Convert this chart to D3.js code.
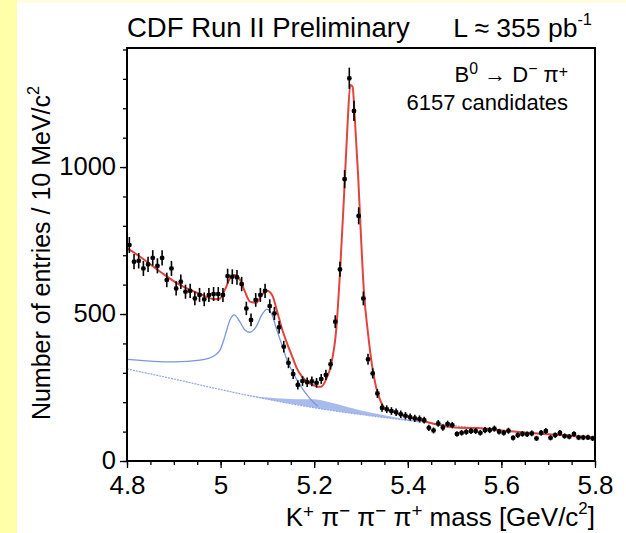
<!DOCTYPE html>
<html><head><meta charset="utf-8">
<script src="https://cdn.jsdelivr.net/npm/d3@7"></script>
<style>
body{margin:0;background:#fff}
svg{display:block}
text{font-family:"Liberation Sans",Arial,Helvetica,sans-serif;fill:#000}
</style>
</head><body>
<svg id="chart" width="626" height="533"></svg>
<script>
// ---- data ----
const counts = [
  735,678,681,655,669,691,664,691,616,655,
  587,610,576,579,553,565,550,565,568,568,
  565,629,627,625,602,519,480,548,565,579,
  527,502,455,389,334,296,259,272,268,271,
  266,279,293,329,474,652,959,1302,1191,834,
  553,346,298,230,181,176,170,166,159,154,
  149,145,143,139,113,104,128,114,126,122,
  92,96,99,102,102,96,105,105,110,100,
  96,103,79,88,92,91,94,77,96,102,
  79,88,96,85,83,92,80,80,80,77
];
const binStart = 4.8, binWidth = 0.01;

const fitMass = [4.800,4.828,4.871,4.913,4.956,4.988,4.999,5.009,5.020,5.029,5.041,5.052,5.063,5.076,5.088,5.099,5.110,5.120,5.131,5.142,5.153,5.163,5.174,5.185,5.197,5.208,5.215,5.225,5.236,5.247,5.255,5.264,5.271,5.277,5.282,5.287,5.294,5.300,5.306,5.315,5.324,5.332,5.341,5.351,5.366,5.394,5.426,5.469,5.507,5.55,5.60,5.65,5.70,5.75,5.80];
const fitTotal = [724,695,644,599,568,550,553,582,621,633,618,576,542,538,565,579,565,514,451,400,355,315,287,270,259,253,253,276,327,446,638,910,1137,1279,1273,1160,967,763,582,434,321,253,207,179,168,153,139,122,113,112,104,97,91,85,80];

const partMass = [4.800,4.850,4.903,4.956,4.988,4.999,5.009,5.020,5.029,5.041,5.052,5.063,5.076,5.088,5.099,5.110,5.120,5.131,5.142,5.153,5.163,5.174,5.185,5.197,5.208];
const partVals = [346,340,337,343,360,378,423,480,497,474,446,438,457,497,516,497,446,395,343,305,276,248,224,202,186];

const bkgMass = [4.8,4.9,5.0,5.1,5.2,5.3,5.4,5.5,5.6,5.7,5.8];
const bkgVals = [313,279,243,210,181,158,138,120,104,91,80];

const fillMass = [5.06,5.10,5.14,5.18,5.20,5.22,5.25,5.30,5.35,5.40,5.45,5.50];
const fillLow  = [223,210,198,187,181,176,169,158,148,138,129,120];
const fillHigh = [224,216,212,210,210,205,193,172,156,142,131,121];

const xTicks = [4.8,5.0,5.2,5.4,5.6,5.8];
const xTickLabels = ["4.8","5","5.2","5.4","5.6","5.8"];
const yTicks = [0,500,1000];
const yTickLabels = ["0","500","1000"];

// ---- layout ----
const svg = d3.select("#chart");
const W = 626, H = 533;
const L = 127, R = 595, T = 48, B = 461;

svg.append("rect").attr("x",0).attr("y",0).attr("width",W).attr("height",H).attr("fill","#fff");
svg.append("rect").attr("x",0).attr("y",0).attr("width",W).attr("height",3).attr("fill","#fffde0");
svg.append("rect").attr("x",0).attr("y",0).attr("width",17).attr("height",H).attr("fill","#ffffaa");

const x = d3.scaleLinear().domain([4.8,5.8]).range([L,R]);
const y = d3.scaleLinear().domain([0,1405]).range([B,T]);

svg.append("defs").append("clipPath").attr("id","clip")
  .append("rect").attr("x",L).attr("y",T).attr("width",R-L).attr("height",B-T);
const g = svg.append("g").attr("clip-path","url(#clip)");

// filled component
const fillData = fillMass.map((m,i)=>({m, lo:fillLow[i], hi:fillHigh[i]}));
g.append("path").datum(fillData)
  .attr("d", d3.area().x(d=>x(d.m)).y0(d=>y(d.lo)).y1(d=>y(d.hi)).curve(d3.curveMonotoneX))
  .attr("fill","#a8bbec");

// combinatorial background
g.append("path").datum(bkgMass.map((m,i)=>[m,bkgVals[i]]))
  .attr("d", d3.line().x(d=>x(d[0])).y(d=>y(d[1])).curve(d3.curveMonotoneX))
  .attr("fill","none").attr("stroke","#8ea6e6").attr("stroke-width",1.2).attr("stroke-dasharray","2,1");

// partially reconstructed
g.append("path").datum(partMass.map((m,i)=>[m,partVals[i]]))
  .attr("d", d3.line().x(d=>x(d[0])).y(d=>y(d[1])).curve(d3.curveMonotoneX))
  .attr("fill","none").attr("stroke","#7896dc").attr("stroke-width",1.3);

// total fit
g.append("path").datum(fitMass.map((m,i)=>[m,fitTotal[i]]))
  .attr("d", d3.line().x(d=>x(d[0])).y(d=>y(d[1])).curve(d3.curveMonotoneX))
  .attr("fill","none").attr("stroke","#e0443c").attr("stroke-width",2);

// data points
const pts = counts.map((c,i)=>({m: binStart + binWidth*(i+0.5), lo: binStart+binWidth*i, hi: binStart+binWidth*(i+1), c, e: Math.sqrt(c)}));
const pg = g.append("g");
pg.selectAll("line.v").data(pts).join("line").attr("class","v")
  .attr("x1",d=>x(d.m)).attr("x2",d=>x(d.m))
  .attr("y1",d=>y(d.c-d.e)).attr("y2",d=>y(d.c+d.e))
  .attr("stroke","#000").attr("stroke-width",1.6);
pg.selectAll("line.h").data(pts).join("line").attr("class","h")
  .attr("x1",d=>x(d.lo)).attr("x2",d=>x(d.hi))
  .attr("y1",d=>y(d.c)).attr("y2",d=>y(d.c))
  .attr("stroke","#000").attr("stroke-width",1.4);
pg.selectAll("rect").data(pts).join("rect")
  .attr("x",d=>x(d.m)-2).attr("y",d=>y(d.c)-2).attr("width",4).attr("height",4).attr("fill","#000");

// axes
const xMinor = d3.range(0,21).map(i=>4.8+i*0.05);
const yMinor = d3.range(0,15).map(i=>i*100);
const xAxisMinor = d3.axisBottom(x).tickValues(xMinor).tickSize(4).tickFormat("");
const xAxisMajor = d3.axisBottom(x).tickValues(xTicks).tickSize(7).tickPadding(6).tickFormat((d,i)=>xTickLabels[i]);
const yAxisMinor = d3.axisLeft(y).tickValues(yMinor).tickSize(4).tickFormat("");
const yAxisMajor = d3.axisLeft(y).tickValues(yTicks).tickSize(7).tickPadding(4).tickFormat((d,i)=>yTickLabels[i]);

function styleAxis(sel, fs){
  sel.select(".domain").remove();
  sel.selectAll("line").attr("stroke","#000").attr("stroke-width",1.3);
  sel.selectAll("text").attr("font-size",fs).attr("font-family",'"Liberation Sans",Arial,sans-serif').attr("fill","#000");
}
svg.append("g").attr("transform",`translate(0,${B})`).call(xAxisMinor).call(styleAxis,26);
svg.append("g").attr("transform",`translate(0,${B})`).call(xAxisMajor).call(styleAxis,26)
  .selectAll("text").attr("dy",null).attr("y",null).attr("transform",null)
  .attr("y", 33);
svg.append("g").attr("transform",`translate(${L},0)`).call(yAxisMinor).call(styleAxis,25.5);
svg.append("g").attr("transform",`translate(${L},0)`).call(yAxisMajor).call(styleAxis,25.5)
  .selectAll("text").attr("dy","0.3em");

// frame
svg.append("rect").attr("x",L).attr("y",T).attr("width",R-L).attr("height",B-T)
  .attr("fill","none").attr("stroke","#000").attr("stroke-width",2);

// titles
svg.append("text").attr("x",L).attr("y",37).attr("font-size",27.5).text("CDF Run II Preliminary");
const lum = svg.append("text").attr("x",R-3).attr("y",37).attr("font-size",26.5).attr("text-anchor","end");
lum.append("tspan").text("L \u2248 355 pb");
lum.append("tspan").attr("font-size","62%").attr("dy","-0.75em").text("-1");

const l1 = svg.append("text").attr("x",568).attr("y",82).attr("font-size",22).attr("text-anchor","end");
l1.append("tspan").text("B");
l1.append("tspan").attr("font-size","72%").attr("dy","-0.5em").text("0");
l1.append("tspan").attr("dy","0.36em").text(" \u2192 D");
l1.append("tspan").attr("font-size","72%").attr("dy","-0.5em").text("\u2212");
l1.append("tspan").attr("dy","0.36em").text(" \u03c0");
l1.append("tspan").attr("font-size","72%").attr("dy","-0.3em").text("+");
svg.append("text").attr("x",568).attr("y",110).attr("font-size",22).attr("text-anchor","end").text("6157 candidates");

// x title
const xt = svg.append("text").attr("x",R).attr("y",526).attr("font-size",26).attr("text-anchor","end");
xt.append("tspan").text("K");
xt.append("tspan").attr("font-size","72%").attr("dy","-0.45em").text("+");
xt.append("tspan").attr("dy","0.32em").text(" \u03c0");
xt.append("tspan").attr("font-size","72%").attr("dy","-0.45em").text("\u2212");
xt.append("tspan").attr("dy","0.32em").text(" \u03c0");
xt.append("tspan").attr("font-size","72%").attr("dy","-0.45em").text("\u2212");
xt.append("tspan").attr("dy","0.32em").text(" \u03c0");
xt.append("tspan").attr("font-size","72%").attr("dy","-0.45em").text("+");
xt.append("tspan").attr("dy","0.32em").text(" mass [GeV/c");
xt.append("tspan").attr("font-size","65%").attr("dy","-0.7em").text("2");
xt.append("tspan").attr("dy","0.45em").text("]");

// y title
const yt = svg.append("text").attr("transform","translate(50,253) rotate(-90)").attr("font-size",25).attr("text-anchor","middle");
yt.append("tspan").text("Number of entries / 10 MeV/c");
yt.append("tspan").attr("font-size","65%").attr("dy","-0.7em").text("2");
</script>
</body></html>
